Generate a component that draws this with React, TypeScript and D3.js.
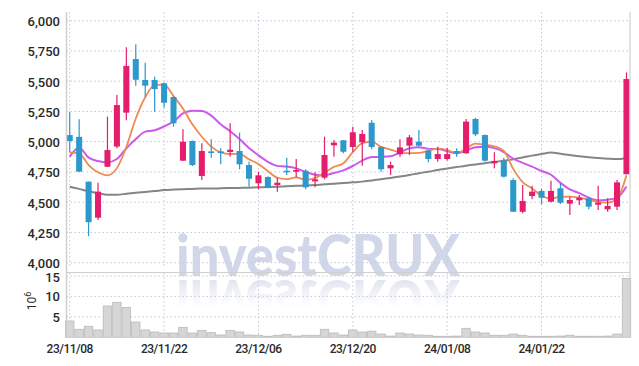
import React from 'react';
import * as d3 from 'd3';

const dates = [
  '23/11/08','23/11/09','23/11/10','23/11/13','23/11/14','23/11/15','23/11/16','23/11/17','23/11/20','23/11/21',
  '23/11/22','23/11/23','23/11/24','23/11/27','23/11/28','23/11/29','23/11/30','23/12/01','23/12/04','23/12/05',
  '23/12/06','23/12/07','23/12/08','23/12/11','23/12/12','23/12/13','23/12/14','23/12/15','23/12/18','23/12/19',
  '23/12/20','23/12/21','23/12/22','23/12/26','23/12/27','23/12/28','24/01/02','24/01/03','24/01/04','24/01/05',
  '24/01/08','24/01/09','24/01/10','24/01/11','24/01/12','24/01/15','24/01/16','24/01/17','24/01/18','24/01/19',
  '24/01/22','24/01/23','24/01/24','24/01/25','24/01/26','24/01/29','24/01/30','24/01/31','24/02/01','24/02/02',
];

const opens = [
  5055, 5040, 4670, 4372, 4793, 4960, 5240, 5683, 5510, 5510,
  5483, 5369, 4843, 5006, 4717, 4920, 4920, 4915, 4923, 4807,
  4656, 4708, 4642, 4760, 4752, 4760, 4672, 4703, 4970, 5012,
  4956, 4995, 5157, 4956, 4780, 4896, 4967, 5000, 4926, 4857,
  4857, 4923, 4904, 5188, 5055, 4821, 4843, 4683, 4421, 4551,
  4593, 4504, 4615, 4488, 4516, 4532, 4479, 4441, 4463, 4731,
];
const highs = [
  5248, 5185, 4670, 4660, 5207, 5386, 5780, 5805, 5653, 5537,
  5490, 5375, 5102, 5010, 4987, 5020, 4945, 5152, 5074, 4835,
  4752, 4715, 4703, 4868, 4857, 4772, 4747, 5041, 5014, 5015,
  5124, 5097, 5180, 4960, 4835, 5020, 5055, 5097, 4930, 4959,
  4950, 4945, 5188, 5198, 5060, 4912, 4868, 4697, 4642, 4636,
  4609, 4678, 4656, 4545, 4560, 4545, 4636, 4532, 4683, 5573,
];
const lows = [
  4915, 4752, 4220, 4353, 4790, 4945, 5177, 5463, 5372, 5248,
  5281, 5124, 4840, 4800, 4684, 4868, 4813, 4876, 4772, 4628,
  4607, 4615, 4587, 4725, 4705, 4607, 4623, 4689, 4876, 4904,
  4917, 4802, 4937, 4752, 4725, 4876, 4890, 4960, 4830, 4835,
  4845, 4876, 4900, 5047, 4835, 4780, 4705, 4418, 4408, 4524,
  4483, 4500, 4485, 4394, 4477, 4441, 4435, 4421, 4435, 4731,
];
const closes = [
  5006, 4752, 4335, 4587, 4931, 5303, 5626, 5512, 5463, 5435,
  5322, 5152, 5000, 4807, 4923, 4915, 4913, 4934, 4813, 4694,
  4722, 4620, 4661, 4755, 4766, 4623, 4689, 4890, 4992, 4917,
  5078, 5064, 4956, 4772, 4807, 4953, 5036, 4967, 4857, 4898,
  4898, 4901, 5166, 5061, 4843, 4840, 4711, 4421, 4510, 4587,
  4537, 4593, 4496, 4518, 4537, 4463, 4496, 4469, 4664, 5518,
];
// volume in millions of shares
const volumes = [
  4.0, 1.96, 2.7, 1.8, 7.66, 8.56, 7.3, 3.74, 1.8, 1.3,
  1.05, 1.05, 2.44, 1.05, 1.7, 1.13, 0.56, 1.7, 1.3, 0.56,
  0.5, 0.25, 0.5, 0.73, 0.3, 0.5, 0.5, 1.96, 1.05, 0.56,
  1.8, 1.3, 1.5, 0.8, 0.3, 1.05, 0.8, 0.56, 0.5, 0.25,
  0.25, 0.3, 2.2, 1.3, 1.05, 0.5, 0.5, 0.8, 0.5, 0.25,
  0.25, 0.25, 0.3, 0.5, 0.25, 0.25, 0.25, 0.3, 0.8, 14.4,
];
// moving-average values read from the chart where earlier history is not visible
const ma5Lead = [4912, 4904, 4807, 4747];
const ma10Lead = [4876, 4950, 4868, 4840, 4830, 4857, 4945, 5022, 5083];
const maLong = [
  4628, 4610, 4590, 4575, 4562, 4562, 4570, 4578, 4585, 4592,
  4600, 4604, 4607, 4610, 4613, 4613, 4615, 4617, 4618, 4620,
  4623, 4625, 4628, 4632, 4635, 4638, 4642, 4648, 4652, 4658,
  4664, 4670, 4680, 4690, 4700, 4712, 4725, 4740, 4752, 4766,
  4778, 4790, 4802, 4812, 4822, 4833, 4843, 4855, 4870, 4885,
  4898, 4910, 4900, 4890, 4880, 4872, 4866, 4860, 4856, 4866,
];

const priceTicks = [4000, 4250, 4500, 4750, 5000, 5250, 5500, 5750, 6000];
const volTicks = [5, 10, 15];
const tickDates = ['23/11/08', '23/11/22', '23/12/06', '23/12/20', '24/01/08', '24/01/22'];

const UP = '#e61c6c';
const DOWN = '#2d98cb';
const GRID = '#c4c6d8';
const FRAME = '#cfcfcf';
const FONT = 'Roboto, "Noto Sans", sans-serif';

export default function App() {
  const left = 66.5;
  const right = 630;
  const x = d3.scaleBand<string>().domain(dates).range([65, 631.2]);
  const bw = x.bandwidth();
  const cx = (d: string) => (x(d) as number) + bw / 2;
  const y = d3.scaleLinear().domain([4000, 6000]).range([262.7, 20.7]);
  const yv = d3.scaleLinear().domain([0, 15]).range([337.3, 276]);

  const ma5 = closes.map((c, i) => (i < 4 ? ma5Lead[i] : (d3.mean(closes.slice(i - 4, i + 1)) as number)));
  const ma10 = closes.map((c, i) => (i < 9 ? ma10Lead[i] : (d3.mean(closes.slice(i - 9, i + 1)) as number)));

  const line = d3
    .line<number>()
    .x((_, i) => cx(dates[i]))
    .y((v) => y(v))
    .curve(d3.curveMonotoneX);

  const candleW = bw * 0.64;
  const fmt = d3.format(',');

  return (
    <svg width={639} height={366} style={{ position: 'absolute', left: 0, top: 0, background: '#fff' }}>
      <defs>
        <linearGradient id="refl" x1="0" y1="0" x2="0" y2="1">
          <stop offset="0" stopColor="#fff" stopOpacity={0.6} />
          <stop offset="0.6" stopColor="#fff" stopOpacity={0.2} />
          <stop offset="1" stopColor="#fff" stopOpacity={0} />
        </linearGradient>
        <mask id="reflMask" maskUnits="userSpaceOnUse" x="0" y="0" width="639" height="366">
          <rect x={150} y={278} width={340} height={30} fill="url(#refl)" />
        </mask>
      </defs>

      {/* horizontal price grid */}
      {priceTicks.map((t) => (
        <line key={'pg' + t} x1={left} x2={right} y1={y(t)} y2={y(t)} stroke={GRID} strokeDasharray="1.5,2.5" />
      ))}
      {/* volume grid */}
      {volTicks.map((t) => (
        <line key={'vg' + t} x1={left} x2={right} y1={yv(t)} y2={yv(t)} stroke={GRID} strokeDasharray="1.5,2.5" />
      ))}
      {/* vertical grid */}
      {tickDates.map((d) => (
        <g key={'vx' + d}>
          <line x1={cx(d)} x2={cx(d)} y1={12} y2={268} stroke={GRID} strokeDasharray="1.5,2.5" />
          <line x1={cx(d)} x2={cx(d)} y1={273} y2={337} stroke={GRID} strokeDasharray="1.5,2.5" />
        </g>
      ))}

      {/* watermark */}
      <g fontFamily='Lato, "Open Sans", sans-serif' fontWeight={900} fontSize={58} fill="#c9d0e4">
        <text x={176} y={276} textLength={284} lengthAdjust="spacingAndGlyphs" opacity={0.85}>
          investCRUX
        </text>
        <g mask="url(#reflMask)">
          <text
            x={176}
            y={276}
            textLength={284}
            lengthAdjust="spacingAndGlyphs"
            transform="translate(0,556) scale(1,-1)"
          >
            investCRUX
          </text>
        </g>
      </g>

      {/* volume bars */}
      {volumes.map((v, i) => (
        <rect
          key={'vb' + i}
          x={(x(dates[i]) as number) + 0.5}
          y={yv(v)}
          width={bw - 1}
          height={yv(0) - yv(v)}
          fill="#d6d6d6"
          stroke="#b9b9b9"
          strokeWidth={0.8}
        />
      ))}

      {/* moving averages */}
      <path d={line(maLong) as string} fill="none" stroke="#858585" strokeWidth={2} />
      <path d={line(ma10) as string} fill="none" stroke="#cc58ec" strokeWidth={2} />
      <path d={line(ma5) as string} fill="none" stroke="#ee8a52" strokeWidth={1.8} />

      {/* candles */}
      {dates.map((d, i) => {
        const o = opens[i];
        const c = closes[i];
        const col = c >= o ? UP : DOWN;
        const top = y(Math.max(o, c));
        const h = Math.max(1.6, Math.abs(y(o) - y(c)));
        const xc = cx(d);
        return (
          <g key={'c' + i}>
            <line x1={xc} x2={xc} y1={y(highs[i])} y2={y(lows[i])} stroke={col} strokeWidth={1.2} />
            <rect x={xc - candleW / 2} y={top} width={candleW} height={h} fill={col} />
          </g>
        );
      })}

      {/* frame */}
      <line x1={left} x2={left} y1={12} y2={337.5} stroke={FRAME} strokeWidth={1.5} />
      <line x1={right} x2={right} y1={12} y2={337.5} stroke={FRAME} strokeWidth={1.2} />
      <line x1={left} x2={right} y1={272.5} y2={272.5} stroke={FRAME} strokeWidth={1.2} />
      <line x1={left} x2={right} y1={337.5} y2={337.5} stroke={FRAME} strokeWidth={1} />

      {/* y labels */}
      <g fontFamily={FONT} fontSize={13} fill="#2a2a2a" textAnchor="end" fontWeight={500}>
        {priceTicks.map((t) => (
          <text key={'yl' + t} x={60} y={y(t) + 5.5}>
            {fmt(t)}
          </text>
        ))}
        {volTicks.map((t) => (
          <text key={'vl' + t} x={60} y={yv(t) + (t === 15 ? 6 : 5)}>
            {t}
          </text>
        ))}
      </g>
      <text
        transform="translate(36,301) rotate(-90)"
        fontFamily={FONT}
        fontSize={12}
        fill="#2a2a2a"
        textAnchor="middle"
      >
        10
        <tspan dy={-5} fontSize={9}>
          6
        </tspan>
      </text>

      {/* x labels */}
      <g fontFamily={FONT} fontSize={12} fill="#2a2a2a" textAnchor="middle" fontWeight={500} letterSpacing={-0.5}>
        {tickDates.map((d) => (
          <text key={'xl' + d} x={cx(d)} y={353}>
            {d}
          </text>
        ))}
      </g>
    </svg>
  );
}
